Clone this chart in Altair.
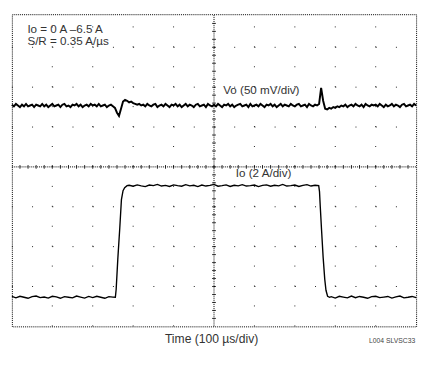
import altair as alt
import pandas as pd

# ---- scope settings ----
T_MAX = 1000          # 10 div x 100 us/div
Y_TOP = 7.83          # visible screen divisions (bottom = 0)
VO_SCALE = 50.0       # mV/div
VO_OFFSET = 5.54      # div
IO_SCALE = 2.0        # A/div
IO_OFFSET = 0.73      # div

# ---- Vo trace (mV deviation), sampled every 5 us ----
vo_t = list(range(0, 1001, 5))
vo_mv = [
    1, -1, 2, 0, -2, 1, -1, 2, -1, 0, 1, -2, 1, 0, -1, 2, -1, 1, -2, 0,
    2, -1, 0, 1, -2, 1, 2, -1, 0, -2, 1, 0, 2, -1, 1, -2, 0, 1, -1, 2,
    0, 1, -1, 2, -1, 0, 1, -2, 0, 1, -1, -3, -9, -13, -4, 5, 7, 6, 4, 5,
    3, 2, 1, 2, 0, 1, -1, 2, 0, -1, 1, 2, -2, 0, 1, -1, 2, 0, -2, 1,
    0, 2, -1, 1, -2, 0, 2, -1, 1, 0, -2, 1, 2, -1, 0, 1, -2, 2, 0, -1,
    1, -1, 2, 0, -2, 1, 0, 2, -1, 1, -2, 0, 1, 2, -1, 0, 1, -2, 2, -1,
    0, 1, -1, 2, 0, -2, 1, 0, 2, -1, 1, -2, 0, 2, -1, 1, 0, -1, 2, 0,
    -1, 1, 2, -1, 0, 1, -2, 2, 0, -1, 1, 0, 2, 22, 6, -4, -5, -3, -4, -2,
    -3, -1, -2, 0, -1, 1, -2, 0, 1, -1, 2, 0, -1, 1, -2, 2, 0, -1, 1, 0,
    1, -1, 2, 0, -2, 1, -1, 0, 2, -1, 1, 0, -2, 1, 2, -1, 0, 1, -1, 2,
    0,
]

# ---- Io trace (A) ----
io_t = (list(range(0, 251, 10))
        + [256, 258, 262, 267, 271, 275, 279, 285]
        + list(range(290, 751, 10))
        + [759, 761, 763, 766, 770, 774, 777, 781, 786]
        + list(range(790, 1001, 10)))
io_a = (
    [0.04, -0.03, 0.05, 0.0, -0.05, 0.03, 0.06, -0.02, 0.01, -0.04, 0.05, 0.02, -0.05,
     0.03, 0.0, -0.03, 0.06, 0.01, -0.04, 0.04, -0.02, 0.05, 0.0, -0.05, 0.03, 0.01]
    + [0.0, 0.4, 1.9, 3.5, 4.9, 5.35, 5.5, 5.6]
    + [5.62, 5.57, 5.64, 5.59, 5.55, 5.63, 5.6, 5.66, 5.58, 5.61,
       5.56, 5.64, 5.6, 5.57, 5.65, 5.59, 5.62, 5.55, 5.63, 5.58,
       5.61, 5.66, 5.57, 5.6, 5.64, 5.56, 5.62, 5.59, 5.65, 5.58,
       5.6, 5.63, 5.55, 5.61, 5.64, 5.57, 5.62, 5.59, 5.66, 5.58,
       5.6, 5.63, 5.56, 5.61, 5.65, 5.58, 5.62]
    + [5.6, 5.3, 4.5, 3.4, 2.0, 0.9, 0.35, 0.05, 0.0]
    + [0.03, -0.04, 0.05, 0.01, -0.03, 0.06, -0.02, 0.04, 0.0, -0.05, 0.03,
       0.05, -0.02, 0.01, 0.04, -0.04, 0.02, 0.06, -0.03, 0.0, 0.04, -0.02]
)

# grid structure (divisions)
x_grid = [100, 200, 300, 400, 600, 700, 800, 900]
y_grid = [1, 2, 3, 5, 6, 7]

vo_df = pd.DataFrame([(t, VO_OFFSET + v / VO_SCALE) for t, v in zip(vo_t, vo_mv)], columns=["t", "div"])
io_df = pd.DataFrame([(t, IO_OFFSET + a / IO_SCALE) for t, a in zip(io_t, io_a)], columns=["t", "div"])

W, H = 417, 322
xscale = alt.Scale(domain=[0, T_MAX], nice=False, zero=False)
yscale = alt.Scale(domain=[0, Y_TOP], nice=False, zero=False)
X = alt.X("t:Q", scale=xscale, axis=None)
Y = alt.Y("div:Q", scale=yscale, axis=None)

# dotted graticule (dots every half division, starting at bottom / left edge)
vgrid_df = pd.DataFrame({"t": x_grid, "div": 0.0, "div2": Y_TOP})
hgrid_df = pd.DataFrame({"div": y_grid, "t": 0, "t2": T_MAX})
vgrid = alt.Chart(vgrid_df).mark_rule(color="black", strokeDash=[1, 19.56], opacity=0.9).encode(
    x=X, y=Y, y2="div2:Q")
hgrid = alt.Chart(hgrid_df).mark_rule(color="black", strokeDash=[1, 19.85], opacity=0.9).encode(
    y=Y, x=X, x2="t2:Q")

# center cross lines
cx_df = pd.DataFrame({"t": [T_MAX / 2], "div": [0.0], "div2": [Y_TOP]})
cy_df = pd.DataFrame({"div": [4.0], "t": [0], "t2": [T_MAX]})
center_v = alt.Chart(cx_df).mark_rule(color="black", strokeDash=[1, 1], strokeWidth=1).encode(x=X, y=Y, y2="div2:Q")
center_h = alt.Chart(cy_df).mark_rule(color="black", strokeDash=[1, 1], strokeWidth=1).encode(y=Y, x=X, x2="t2:Q")

tick_h_df = pd.DataFrame({"t": list(range(20, T_MAX, 20)), "div": 4.0})
tick_v_df = pd.DataFrame({"t": T_MAX / 2, "div": [i * 0.2 for i in range(1, 39)]})
ticks_h = alt.Chart(tick_h_df).mark_tick(orient="vertical", size=4, thickness=1, color="black", opacity=0.8).encode(x=X, y=Y)
ticks_v = alt.Chart(tick_v_df).mark_tick(orient="horizontal", size=4, thickness=1, color="black", opacity=0.8).encode(x=X, y=Y)

vo_line = alt.Chart(vo_df).mark_line(color="black", strokeWidth=2).encode(x=X, y=Y, order="t:Q")
io_line = alt.Chart(io_df).mark_line(color="black", strokeWidth=1.4).encode(x=X, y=Y, order="t:Q")


def label(txt, x, y, size=12, align="left", color="#333"):
    return alt.Chart(pd.DataFrame({"a": [0]})).mark_text(
        text=txt, align=align, baseline="middle", fontSize=size,
        font="Liberation Sans", color=color
    ).encode(x=alt.value(x), y=alt.value(y))


labels = [
    label("Io = 0 A \u20136.5 A", 16, 15),
    label("S/R = 0.35 A/\u00b5s", 16, 28),
    label("Vo (50 mV/div)", 218, 78),
    label("Io (2 A/div)", 231, 164),
    label("Time (100 \u00b5s/div)", 206, 335, size=12.5, align="center"),
    label("L004  SLVSC33", 416, 337, size=7, align="right", color="#444"),
]

chart = alt.layer(
    vgrid, hgrid, center_v, center_h, ticks_h, ticks_v, io_line, vo_line, *labels
).properties(
    width=W, height=H, padding=0, background="white"
).configure_view(
    stroke="black", strokeDash=[1, 1], strokeWidth=1
)

chart.save("out.html", embed_options={"renderer": "svg", "actions": False})
